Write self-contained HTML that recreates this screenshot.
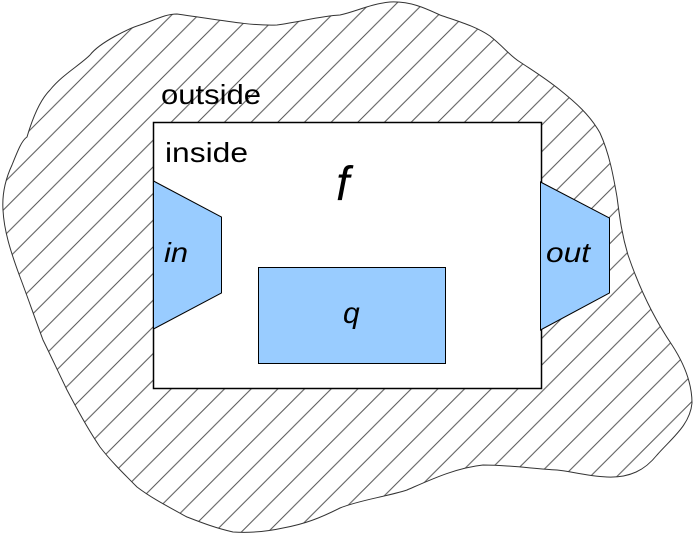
<!DOCTYPE html>
<html>
<head>
<meta charset="utf-8">
<style>
  html,body{margin:0;padding:0;background:#fff;}
  svg{display:block;}
  text{font-family:"Liberation Sans",sans-serif;fill:#000;}
</style>
</head>
<body>
<svg width="693" height="533" viewBox="0 0 693 533">
  <defs>
    <pattern id="hatch" patternUnits="userSpaceOnUse" width="26.67" height="26.67">
      <path d="M0,26.67 L26.67,0 M-5,5 L5,-5 M21.67,31.67 L31.67,21.67" stroke="#555" stroke-width="1"/>
    </pattern>
  </defs>
  <path
    d="M177,14 C220,20 250,26 277,25 C300,22 320,16 340,15 C355,12 370,4 390,2 C410,1 425,8 440,15 C460,22 475,26 490,36 C505,48 510,56 520,62 C535,72 545,78 560,90 C575,102 590,115 600,133 C610,155 614,180 617,197 C620,220 622,235 628,255 C640,290 655,320 672,345 C685,365 692,385 692,403 C690,425 672,438 657,455 C645,470 630,478 607,477 C585,476 570,471 557,470 C535,469 510,465 483,465 C455,468 430,480 407,490 C385,497 360,500 340,508 C320,518 305,524 283,528 C265,532 250,533 233,532 C215,528 200,522 187,517 C165,505 150,497 137,487 C120,470 110,460 100,447 C85,425 75,405 67,390 C55,365 48,350 43,340 C32,310 25,290 20,277 C10,250 4,230 3,210 C2,195 5,180 12,165 C18,150 22,140 27,137 C32,120 40,100 50,90 C62,75 80,65 90,55 C100,42 130,28 140,25 C155,20 165,14 177,14 Z"
    fill="url(#hatch)" stroke="#333" stroke-width="1"/>
  <rect x="153.5" y="122.5" width="388" height="266" fill="#fff" stroke="#000" stroke-width="1.5"/>
  <polygon points="153.5,181 221.5,217 221.5,293 153.5,329" fill="#99ccff" stroke="#000" stroke-width="1"/>
  <polygon points="540.5,182 609.5,218 609.5,293 540.5,330" fill="#99ccff" stroke="#000" stroke-width="1"/>
  <rect x="258.5" y="267.5" width="187" height="96" fill="#99ccff" stroke="#000" stroke-width="1"/>
  <text x="161" y="104" font-size="28" textLength="100" lengthAdjust="spacingAndGlyphs">outside</text>
  <text x="165" y="162" font-size="28" textLength="83" lengthAdjust="spacingAndGlyphs">inside</text>
  <text x="336" y="200" font-size="48" font-style="italic">f</text>
  <text x="164" y="262" font-size="28" font-style="italic" textLength="24" lengthAdjust="spacingAndGlyphs">in</text>
  <text x="546" y="262" font-size="28" font-style="italic" textLength="44" lengthAdjust="spacingAndGlyphs">out</text>
  <text x="343" y="323" font-size="30" font-style="italic">q</text>
</svg>
</body>
</html>
